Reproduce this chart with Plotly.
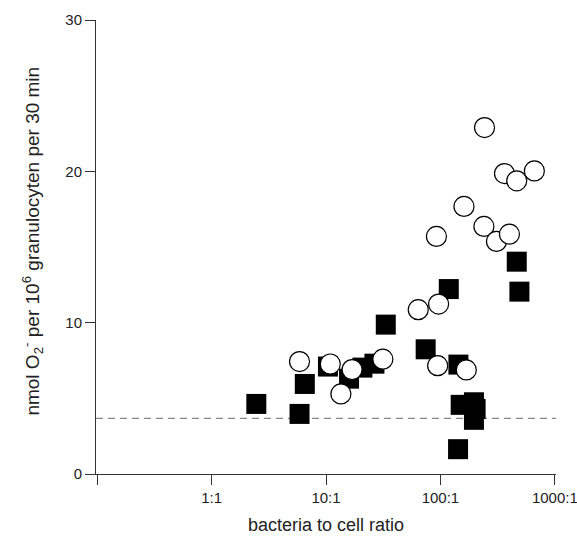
import plotly.graph_objects as go

# Data (bacteria:cell ratio, nmol O2- per 10^6 granulocytes per 30 min)
square_ratio = [2.46, 5.87, 6.53, 10.4, 15.9, 20.8, 26.5, 33.3, 74.3, 118.3,
                143.6, 142.6, 150.3, 196.3, 203.0, 196.3, 464.5, 490.0]
square_value = [4.63, 3.97, 5.95, 7.10, 6.30, 7.03, 7.29, 9.87, 8.24, 12.22,
                7.23, 1.64, 4.57, 4.74, 4.30, 3.58, 14.03, 12.05]

circle_ratio = [5.87, 10.9, 13.5, 16.9, 31.4, 64.0, 96.4, 94.6, 168.3, 92.3,
                160.7, 243.0, 240.0, 309.0, 401.0, 363.0, 464.5, 662.0]
circle_value = [7.43, 7.27, 5.29, 6.90, 7.59, 10.86, 11.23, 7.16, 6.88, 15.70,
                17.68, 22.89, 16.36, 15.37, 15.85, 19.85, 19.37, 20.03]

baseline = 3.68

x_tickvals = [0.1, 1, 10, 100, 1000]
x_ticktext = ["", "1:1", "10:1", "100:1", "1000:1"]
y_tickvals = [0, 10, 20, 30]

x_title = "bacteria to cell ratio"
y_title = "nmol O<sub>2</sub><sup>-</sup> per 10<sup>6</sup> granulocyten per 30 min"

fig = go.Figure()

fig.add_trace(go.Scatter(
    x=square_ratio, y=square_value, mode="markers",
    marker=dict(symbol="square", size=20, color="black",
                line=dict(color="black", width=0)),
    showlegend=False, cliponaxis=False))

fig.add_trace(go.Scatter(
    x=circle_ratio, y=circle_value, mode="markers",
    marker=dict(symbol="circle", size=20, color="white",
                line=dict(color="black", width=1.2)),
    showlegend=False, cliponaxis=False))

fig.add_shape(type="line", xref="paper", x0=0, x1=1, yref="y",
              y0=baseline, y1=baseline,
              line=dict(color="#888888", width=1.2, dash="7px,5px"),
              layer="below")

font_family = "Liberation Sans, Arial, sans-serif"

fig.add_annotation(text=x_title, xref="paper", yref="paper", x=0.5, y=-0.112,
                   xanchor="center", yanchor="middle", showarrow=False,
                   font=dict(size=18, color="#222222"))
fig.add_annotation(text=y_title, xref="paper", yref="paper", x=-0.138, y=0.513,
                   xanchor="center", yanchor="middle", showarrow=False,
                   textangle=-90, font=dict(size=19, color="#222222"))

fig.update_layout(
    width=577, height=538,
    margin=dict(l=96, r=21, t=20, b=64, pad=0),
    plot_bgcolor="white", paper_bgcolor="white",
    font=dict(family=font_family, color="#222222", size=15),
    xaxis=dict(
        type="log", range=[-1.01, 3.01], automargin=False,
        tickvals=x_tickvals, ticktext=x_ticktext,
        ticks="outside", ticklen=10, tickwidth=1, tickcolor="#333333",
        ticklabeloverflow="allow",
        showline=True, linecolor="#333333", linewidth=1,
        showgrid=False, zeroline=False,
        tickfont=dict(size=15),
    ),
    yaxis=dict(
        range=[0, 30], automargin=False,
        tickvals=y_tickvals,
        ticks="outside", ticklen=10, tickwidth=1, tickcolor="#333333",
        showline=True, linecolor="#333333", linewidth=1,
        showgrid=False, zeroline=False,
        tickfont=dict(size=15),
    ),
)

fig.write_html("out.html")
